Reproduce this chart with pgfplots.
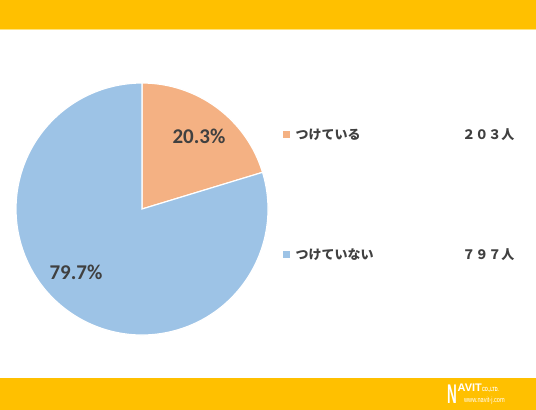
\documentclass[border=0pt]{standalone}
\usepackage{pgfplots}
\pgfplotsset{compat=1.18}
\usepackage{pgfplotstable}
\usepackage{fontspec}
\setmainfont{Carlito}
\newfontfamily\jp{Noto Sans CJK JP}
\newfontfamily\logofont{Liberation Sans}
\definecolor{barY}{HTML}{FFC000}
\definecolor{barLine}{HTML}{FFE37F}
\definecolor{pieO}{HTML}{F4B183}
\definecolor{pieB}{HTML}{9DC3E6}
\definecolor{txt}{HTML}{404040}
\pgfplotstableread{
label count pct
a 203 20.3
b 797 79.7
}\piedata
\begin{document}
\begin{tikzpicture}[x=1pt,y=1pt]
\pgfplotstablegetelem{0}{pct}\of\piedata \let\pa\pgfplotsretval
\pgfplotstablegetelem{1}{pct}\of\piedata \let\pb\pgfplotsretval
\pgfmathsetmacro\aEnd{90-3.6*\pa}
\pgfmathsetmacro\bEnd{\aEnd-3.6*\pb}
\fill[white] (0,0) rectangle (536,410);
\fill[barY] (0,381) rectangle (536,410);
\fill[barLine] (0,379.5) rectangle (536,381);
\fill[barY] (0,0) rectangle (536,32);
\begin{axis}[
  at={(16pt,75pt)}, anchor=south west,
  scale only axis, width=252pt, height=252pt,
  xmin=-1, xmax=1, ymin=-1, ymax=1,
  hide axis, clip=false,
  /pgf/number format/assume math mode=true]
\fill[pieO, draw=white, line width=1.2pt] (axis cs:0,0) -- (axis cs:0,1) arc[start angle=90, end angle=\aEnd, radius=126pt] -- cycle;
\fill[pieB, draw=white, line width=1.2pt] (axis cs:0,0) -- (axis cs:{cos(\aEnd)},{sin(\aEnd)}) arc[start angle=\aEnd, end angle=\bEnd, radius=126pt] -- cycle;
\node[font=\fontsize{21}{22}\selectfont\bfseries, text=txt] at (axis cs:0.452,0.579) {\pgfmathprintnumber[fixed,precision=1,fixed zerofill,assume math mode=true]{\pa}\%};
\node[font=\fontsize{21}{22}\selectfont\bfseries, text=txt] at (axis cs:-0.524,-0.5) {\pgfmathprintnumber[fixed,precision=1,fixed zerofill,assume math mode=true]{\pb}\%};
\end{axis}
% legend
\fill[pieO] (282.5,271.5) rectangle (289.5,278.5);
\node[anchor=west, font=\jp\fontsize{13}{15}\selectfont\bfseries, text=txt] at (292,275) {つけている};
\node[anchor=east, font=\jp\fontsize{13}{15}\selectfont\bfseries, text=txt] at (518,275) {２０３人};
\fill[pieB] (282.5,151.5) rectangle (289.5,158.5);
\node[anchor=west, font=\jp\fontsize{13}{15}\selectfont\bfseries, text=txt] at (292,155) {つけていない};
\node[anchor=east, font=\jp\fontsize{13}{15}\selectfont\bfseries, text=txt] at (518,155) {７９７人};
% logo
\node[anchor=base west, inner sep=0pt, text=white, yscale=2, font=\logofont\bfseries\fontsize{13.5}{13.5}\selectfont] at (447,6) {N};
\node[anchor=base west, inner sep=0pt, text=white, font=\logofont\bfseries\fontsize{11}{11}\selectfont] at (457.5,18) {AVIT};
\node[anchor=base west, inner sep=0pt, text=white, xscale=0.66, font=\logofont\bfseries\fontsize{6}{6}\selectfont] at (482,18) {CO.,LTD.};
\node[anchor=base west, inner sep=0pt, text=white, xscale=0.75, font=\logofont\fontsize{7.5}{7.5}\selectfont] at (464,7.5) {www.navit-j.com};
\end{tikzpicture}
\end{document}
